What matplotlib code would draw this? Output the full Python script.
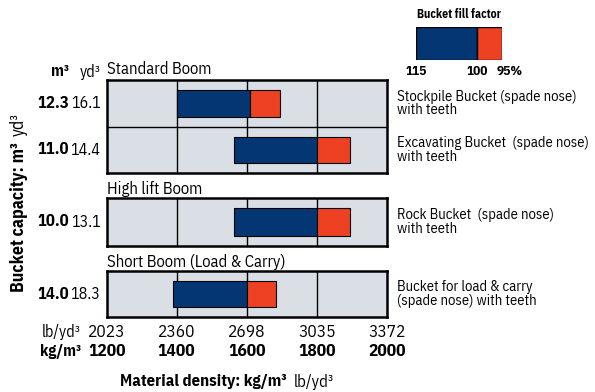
import matplotlib
matplotlib.use('Agg')
import matplotlib.pyplot as plt
from matplotlib.transforms import blended_transform_factory as blend

plt.rcParams['font.family'] = ['IBM Plex Sans Condensed', 'DejaVu Sans']

W, H = 595, 392

# data
groups = ['Standard Boom', 'High lift Boom', 'Short Boom (Load & Carry)']
cap_m3 = [['12.3', '11.0'], ['10.0'], ['14.0']]
cap_yd3 = [['16.1', '14.4'], ['13.1'], ['18.3']]
buckets = [['Stockpile Bucket (spade nose)\nwith teeth',
            'Excavating Bucket  (spade nose)\nwith teeth'],
           ['Rock Bucket  (spade nose)\nwith teeth'],
           ['Bucket for load & carry\n(spade nose) with teeth']]
dens_115 = [[1400, 1565], [1565], [1390]]
dens_100 = [[1610, 1800], [1800], [1600]]
dens_95 = [[1695, 1895], [1895], [1685]]
kg_ticks = [1200, 1400, 1600, 1800, 2000]
lb_ticks = [2023, 2360, 2698, 3035, 3372]
fill_factors = [115, 100, 95]

BLUE = '#033672'
RED = '#EE4023'
BG = '#D9DFE5'

fig = plt.figure(figsize=(W / 100, H / 100), dpi=100)


def box(x0, y0, x1, y1):
    return [x0 / W, 1 - y1 / H, (x1 - x0) / W, (y1 - y0) / H]


def ftext(x, y, s, **kw):
    return fig.text(x / W, 1 - y / H, s, **kw)


panels = [(80, 173.3), (198.3, 245.7), (271, 317.3)]
axes = []
for g, (top, bot) in enumerate(panels):
    ax = fig.add_axes(box(106.7, top, 386.7, bot))
    axes.append(ax)
    n = len(cap_m3[g])
    rows = list(range(n))
    ax.set_facecolor(BG)
    ax.set_xlim(kg_ticks[0], kg_ticks[-1])
    ax.set_ylim(n - 0.5, -0.5)
    for k in kg_ticks[1:-1]:
        ax.axvline(k, color='black', lw=1, zorder=1)
    for r in rows[:-1]:
        ax.axhline(r + 0.5, color='black', lw=1, zorder=1)
    lo, mid, hi = dens_115[g], dens_100[g], dens_95[g]
    ax.barh(rows, [m - l for m, l in zip(mid, lo)], left=lo, height=0.57,
            color=BLUE, edgecolor='black', lw=0.8, zorder=3)
    ax.barh(rows, [h - m for h, m in zip(hi, mid)], left=mid, height=0.57,
            color=RED, edgecolor='black', lw=0.8, zorder=3)
    for s in ax.spines.values():
        s.set_linewidth(1.8)
    ax.set_yticks([])
    ax.set_xticks(kg_ticks)
    ax.tick_params(length=0)
    ax.set_xticklabels([])

    ax.text(0, 1.03, groups[g], transform=ax.transAxes, fontsize=12,
            ha='left', va='bottom')
    tr = blend(fig.transFigure, ax.transData)
    for r in rows:
        ax.text(69.5 / W, r, cap_m3[g][r], transform=tr, fontsize=12,
                fontweight='bold', ha='right', va='center')
        ax.text(100.5 / W, r, cap_yd3[g][r], transform=tr, fontsize=11.5,
                ha='right', va='center')
        ax.text(397 / W, r, buckets[g][r], transform=tr, fontsize=10.5,
                ha='left', va='center', linespacing=0.95)

# bottom tick rows
ax = axes[-1]
tr = blend(ax.transData, fig.transFigure)
for k, lb in zip(kg_ticks, lb_ticks):
    ax.text(k, 1 - 331.7 / H, str(lb), transform=tr, fontsize=12.5,
            ha='center', va='center')
    ax.text(k, 1 - 351.7 / H, str(k), transform=tr, fontsize=12.5,
            fontweight='bold', ha='center', va='center')
ftext(81, 331.7, 'lb/yd³', fontsize=11.5, ha='right', va='center')
ftext(81, 351.7, 'kg/m³', fontsize=11.5, fontweight='bold', ha='right', va='center')

# column headers
ftext(69.5, 72, 'm³', fontsize=11.5, fontweight='bold', ha='right', va='center')
ftext(100.5, 72, 'yd³', fontsize=11.5, ha='right', va='center')

fig.canvas.draw()
rend = fig.canvas.get_renderer()

# x label: bold part + regular part
t1 = ftext(120, 381.5, 'Material density: kg/m³', fontsize=12,
           fontweight='bold', ha='left', va='center')
e = t1.get_window_extent(rend)
fig.text((e.x1 + 7) / W, 1 - 381.5 / H, 'lb/yd³', fontsize=12,
         ha='left', va='center')

# y label rotated
t2 = ftext(19, 292, 'Bucket capacity: m³', fontsize=12.8, fontweight='bold',
           rotation=90, ha='center', va='bottom')
e = t2.get_window_extent(rend)
fig.text(19 / W, (e.y1 + 6) / H, 'yd³', fontsize=12.8, rotation=90,
         ha='center', va='bottom')

# fill factor legend
lg = fig.add_axes(box(416, 26.7, 502.3, 60))
inv = [100 / f for f in fill_factors]
lg.set_xlim(inv[0], inv[-1])
lg.set_ylim(0, 1)
lg.barh([0.5], [inv[1] - inv[0]], left=inv[0], height=1, color=BLUE,
        edgecolor='black', lw=1)
lg.barh([0.5], [inv[2] - inv[1]], left=inv[1], height=1, color=RED,
        edgecolor='black', lw=1)
lg.axis('off')
ltr = blend(lg.transData, fig.transFigure)
lg.text(inv[0], 1 - 71.7 / H, str(fill_factors[0]), transform=ltr,
        fontsize=9.5, fontweight='bold', ha='center', va='center')
lg.text(inv[1], 1 - 71.7 / H, str(fill_factors[1]), transform=ltr,
        fontsize=9.5, fontweight='bold', ha='center', va='center')
lg.annotate(f'{fill_factors[2]}%', (inv[2], 1 - 71.7 / H), xycoords=ltr,
            xytext=(-4, 0), textcoords='offset points',
            fontsize=9.5, fontweight='bold', ha='left', va='center')
ftext(459, 15, 'Bucket fill factor', fontsize=8.5, fontweight='bold',
      ha='center', va='center')

fig.savefig('out.png', dpi=100)
